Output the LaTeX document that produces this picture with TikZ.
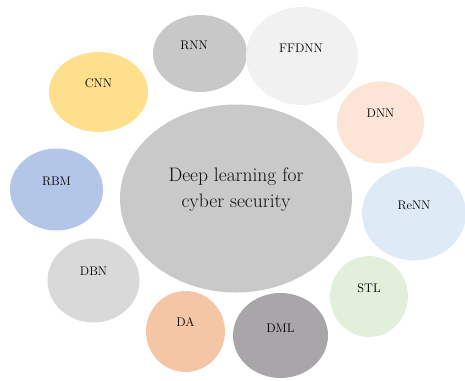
\documentclass[tikz,border=0pt]{standalone}
\usepackage{fix-cm}
\usetikzlibrary{shapes.geometric}
\definecolor{cMain}{HTML}{C9C9C9}
\definecolor{cRNN}{HTML}{C8C8C8}
\definecolor{cFF}{HTML}{F1F1F1}
\definecolor{cCNN}{HTML}{FEDF8C}
\definecolor{cDNN}{HTML}{FCE4D6}
\definecolor{cRBM}{HTML}{B4C6E7}
\definecolor{cReNN}{HTML}{DEEBF7}
\definecolor{cDBN}{HTML}{D9D9D9}
\definecolor{cDA}{HTML}{F5C6A5}
\definecolor{cDML}{HTML}{A9A6A9}
\definecolor{cSTL}{HTML}{E2EFDA}
\tikzset{
  blob/.style={ellipse, draw=none, inner sep=0pt},
  lbl/.style={font=\fontsize{12.5}{14}\selectfont, text=black, inner sep=0pt},
  mainlbl/.style={font=\fontsize{19.5}{26}\selectfont, align=center, text=black!95, inner sep=0pt}
}
\begin{document}
\begin{tikzpicture}[x=1pt,y=-1pt]
\useasboundingbox (0,0) rectangle (465,380);
\clip (0,0) rectangle (465,380);
\node[blob, fill=cMain, minimum width=232pt, minimum height=188pt] (main) at (236,198.5) {};
\node[blob, fill=cRNN, minimum width=94pt, minimum height=77pt] (rnn) at (200,53.5) {};
\node[blob, fill=cFF, minimum width=112pt, minimum height=98pt] (ffdnn) at (302,56) {};
\node[blob, fill=cCNN, minimum width=99pt, minimum height=80pt] (cnn) at (98.5,92) {};
\node[blob, fill=cDNN, minimum width=87pt, minimum height=82pt] (dnn) at (380.5,122.5) {};
\node[blob, fill=cRBM, minimum width=93pt, minimum height=82pt] (rbm) at (56.5,189.5) {};
\node[blob, fill=cReNN, minimum width=104pt, minimum height=94pt] (renn) at (414,213.5) {};
\node[blob, fill=cDBN, minimum width=92pt, minimum height=84pt] (dbn) at (93.5,280.5) {};
\node[blob, fill=cDA, minimum width=79pt, minimum height=81pt] (da) at (185.5,331.5) {};
\node[blob, fill=cDML, minimum width=95pt, minimum height=85pt] (dml) at (280.5,335.5) {};
\node[blob, fill=cSTL, minimum width=78pt, minimum height=81pt] (stl) at (369,296.5) {};

\node[mainlbl] (tmain) at (236,190) {Deep learning for\\cyber security};
\node[lbl] (trnn) at ([xshift=-6pt,yshift=8pt]rnn.center) {RNN};
\node[lbl] (tff) at ([xshift=-1pt,yshift=8pt]ffdnn.center) {FFDNN};
\node[lbl] (tcnn) at ([yshift=9pt]cnn.center) {CNN};
\node[lbl] (tdnn) at ([yshift=9pt]dnn.center) {DNN};
\node[lbl] (trbm) at ([yshift=8pt]rbm.center) {RBM};
\node[lbl] (trenn) at ([yshift=8pt]renn.center) {ReNN};
\node[lbl] (tdbn) at ([yshift=9pt]dbn.center) {DBN};
\node[lbl] (tda) at ([yshift=9pt]da.center) {DA};
\node[lbl] (tdml) at ([yshift=7pt]dml.center) {DML};
\node[lbl] (tstl) at ([yshift=8pt]stl.center) {STL};
\end{tikzpicture}
\end{document}
